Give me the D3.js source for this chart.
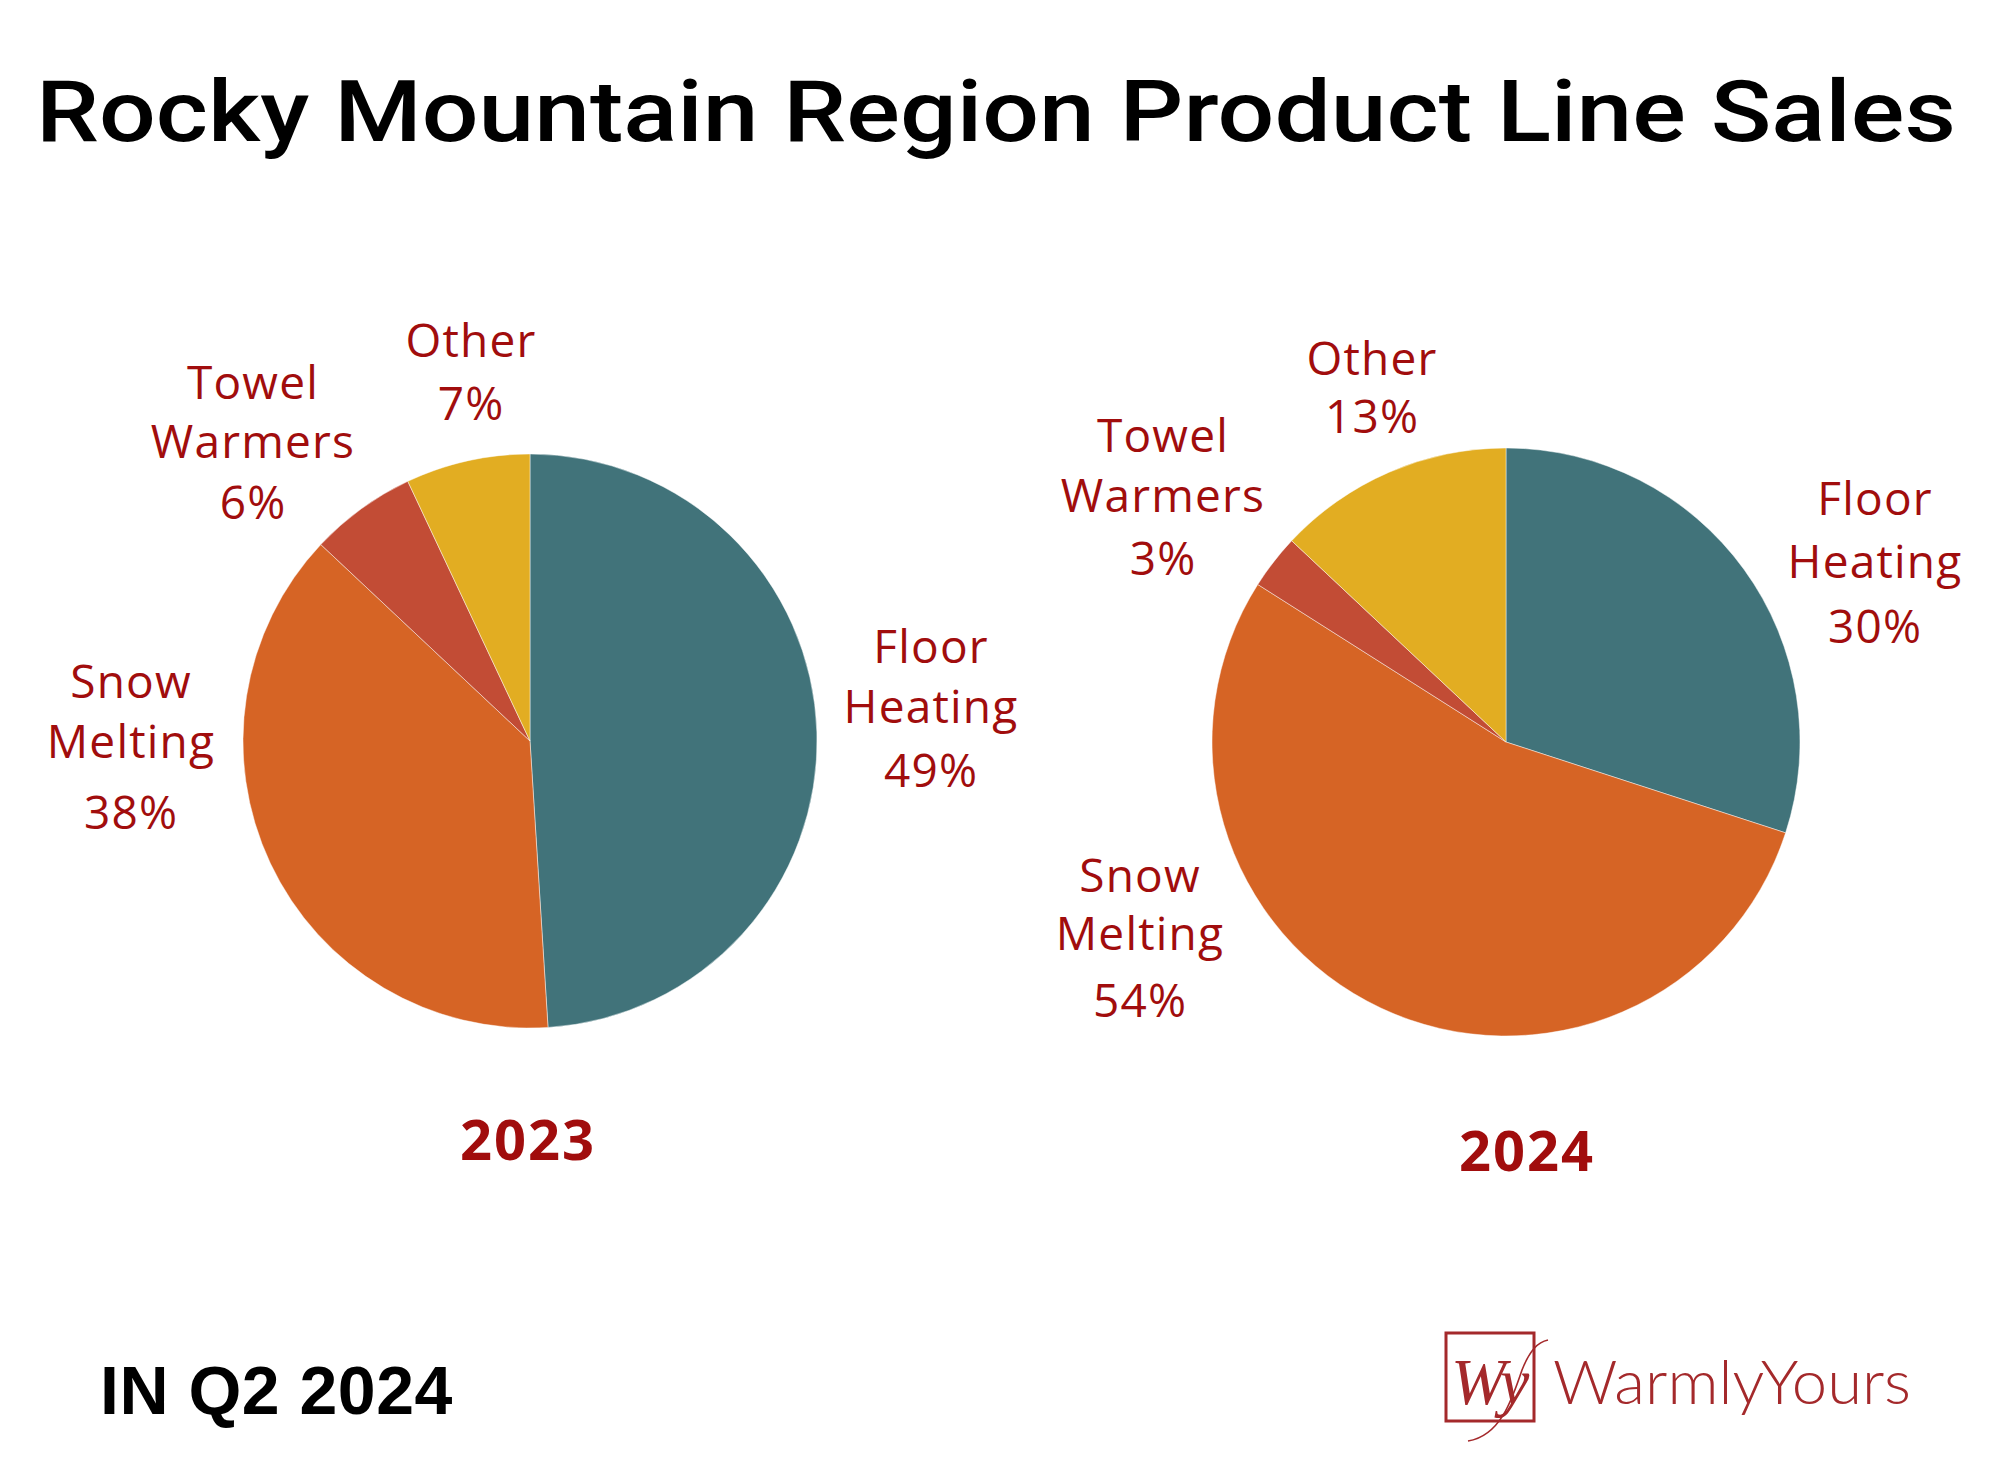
<!DOCTYPE html>
<html>
<head>
<meta charset="utf-8">
<script src="https://cdn.jsdelivr.net/npm/d3@7"></script>
<style>
  html, body { margin: 0; padding: 0; background: #fff; }
  svg { display: block; }
</style>
</head>
<body>
<div id="chart"></div>
<script>
// data
const categories = ['Floor Heating', 'Snow Melting', 'Towel Warmers', 'Other'];
const labelLines = [['Floor', 'Heating'], ['Snow', 'Melting'], ['Towel', 'Warmers'], ['Other']];
const values2023 = [49, 38, 6, 7];
const values2024 = [30, 54, 3, 13];
const years = ['2023', '2024'];
const sliceColors = ['#41737a', '#d66425', '#c24c35', '#e2ad22'];

const W = 2014, H = 1477;
const labelRed = '#a10d0d';

// layout (hand placed like the original)
const pies = [
  { values: values2023, year: years[0], cx: 530, cy: 741, r: 287, yearX: 528, yearY: 1160,
    labels: [
      { x: 931, y: 663, gaps: [60, 64] },
      { x: 131, y: 698, gaps: [60, 71] },
      { x: 253, y: 399, gaps: [59, 61] },
      { x: 471, y: 357, gaps: [63] }
    ] },
  { values: values2024, year: years[1], cx: 1506, cy: 742, r: 294, yearX: 1527, yearY: 1171,
    labels: [
      { x: 1875, y: 515, gaps: [63, 65] },
      { x: 1140, y: 892, gaps: [58, 67] },
      { x: 1163, y: 452, gaps: [60, 63] },
      { x: 1372, y: 375, gaps: [58] }
    ] }
];

const svg = d3.select('#chart').append('svg').attr('width', W).attr('height', H);

// title
svg.append('text')
  .attr('x', 36).attr('y', 141)
  .attr('textLength', 1920).attr('lengthAdjust', 'spacingAndGlyphs')
  .attr('font-family', 'Roboto, sans-serif')
  .attr('font-weight', 500)
  .attr('font-size', 86)
  .attr('fill', '#000')
  .text('Rocky Mountain Region Product Line Sales');

const pie = d3.pie().sort(null).value(d => d);

pies.forEach(p => {
  const arc = d3.arc().innerRadius(0).outerRadius(p.r);
  const g = svg.append('g').attr('transform', `translate(${p.cx},${p.cy})`);

  g.selectAll('path')
    .data(pie(p.values))
    .join('path')
    .attr('d', arc)
    .attr('fill', (d, i) => sliceColors[i])
    .attr('stroke', 'rgba(255,255,255,0.45)')
    .attr('stroke-width', 1);

  // slice labels
  p.values.forEach((v, i) => {
    const lay = p.labels[i];
    const lines = labelLines[i].concat([v + '%']);
    const t = svg.append('text')
      .attr('text-anchor', 'middle')
      .attr('font-family', '"Open Sans", sans-serif')
      .attr('font-size', 46)
      .attr('letter-spacing', 1.2)
      .attr('fill', labelRed);
    let y = lay.y;
    lines.forEach((line, k) => {
      if (k > 0) y += lay.gaps[k - 1];
      t.append('tspan').attr('x', lay.x).attr('y', y).text(line);
    });
  });

  svg.append('text')
    .attr('x', p.yearX).attr('y', p.yearY)
    .attr('text-anchor', 'middle')
    .attr('font-family', '"Open Sans", sans-serif')
    .attr('font-weight', 700)
    .attr('font-size', 56)
    .attr('letter-spacing', 2)
    .attr('fill', labelRed)
    .text(p.year);
});

// footer note
svg.append('text')
  .attr('x', 100).attr('y', 1414)
  .attr('font-family', '"Liberation Sans", Arial, sans-serif')
  .attr('font-weight', 700)
  .attr('font-size', 68)
  .attr('letter-spacing', 0.5)
  .attr('fill', '#000')
  .text('IN Q2 2024');

// logo
const logo = svg.append('g');
const logoRed = '#a4292b';
logo.append('rect')
  .attr('x', 1446).attr('y', 1333).attr('width', 88).attr('height', 88)
  .attr('fill', 'none').attr('stroke', logoRed).attr('stroke-width', 3);
logo.append('text')
  .attr('x', 1451).attr('y', 1404)
  .attr('font-family', '"Liberation Serif", "DejaVu Serif", serif')
  .attr('font-style', 'italic')
  .attr('font-size', 66)
  .attr('fill', logoRed)
  .text('Wy');
logo.append('path')
  .attr('d', 'M1468,1441 C1500,1436 1512,1400 1522,1370 C1530,1350 1538,1342 1548,1340')
  .attr('fill', 'none').attr('stroke', logoRed).attr('stroke-width', 1.6);
logo.append('text')
  .attr('x', 1553).attr('y', 1404)
  .attr('textLength', 358).attr('lengthAdjust', 'spacingAndGlyphs')
  .attr('font-family', 'Lato, sans-serif')
  .attr('font-weight', 300)
  .attr('font-size', 62)
  .attr('fill', logoRed)
  .text('WarmlyYours');
</script>
</body>
</html>
